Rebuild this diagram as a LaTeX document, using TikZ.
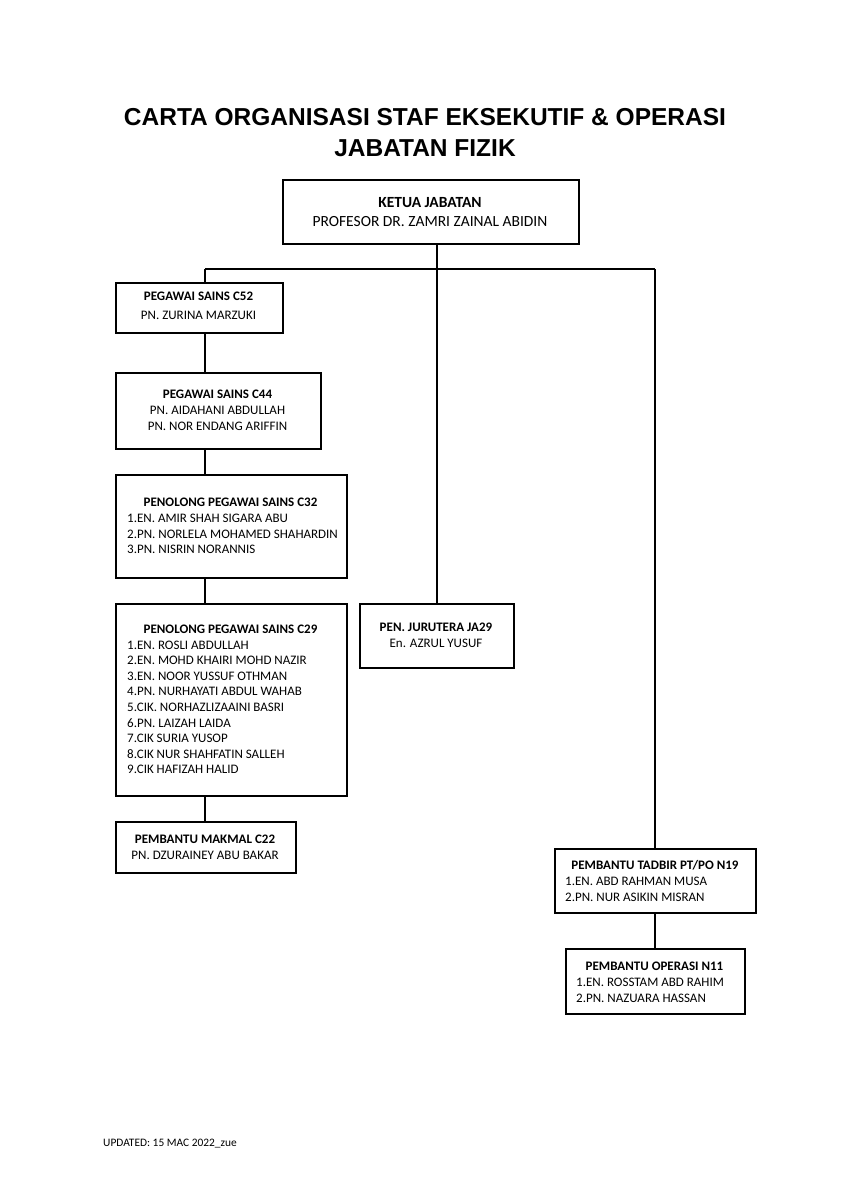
\documentclass[tikz,border=0pt]{standalone}
\usepackage{fontspec}
\setmainfont{Carlito}
\newfontfamily\titlefont{Liberation Sans}
\begin{document}
\begin{tikzpicture}[x=1pt,y=-1pt,
  box/.style={draw,line width=1.7pt,inner sep=0pt,anchor=north west},
  conn/.style={line width=1.3pt},
  hd/.style={font=\fontsize{13}{15.6}\selectfont\bfseries,inner sep=0pt,anchor=base},
  nm/.style={font=\fontsize{13}{15.6}\selectfont,inner sep=0pt,anchor=base},
  lst/.style={font=\fontsize{13}{15.6}\selectfont,inner sep=0pt,anchor=north west,align=left},
  ttl/.style={font=\titlefont\bfseries\fontsize{24.5}{29}\selectfont,inner sep=0pt,anchor=base}
]
\useasboundingbox[fill=white] (0,0) rectangle (849,1200);

% title
\node[ttl] (title1) at (425,125.5) {CARTA ORGANISASI STAF EKSEKUTIF \& OPERASI};
\node[ttl] (title2) at (425,156.5) {JABATAN FIZIK};

% boxes
\node[box,minimum width=296pt,minimum height=64pt] (ketua) at (282,179) {};
\node[box,minimum width=167pt,minimum height=50pt] (c52) at (115,282) {};
\node[box,minimum width=205pt,minimum height=76pt] (c44) at (115,372) {};
\node[box,minimum width=231pt,minimum height=103pt] (c32) at (115,474) {};
\node[box,minimum width=231pt,minimum height=192pt] (c29) at (115,603) {};
\node[box,minimum width=180pt,minimum height=51pt] (c22) at (115,821) {};
\node[box,minimum width=154pt,minimum height=64pt] (jur) at (359,603) {};
\node[box,minimum width=201pt,minimum height=64pt] (tadbir) at (554,848) {};
\node[box,minimum width=179pt,minimum height=65pt] (op) at (565,948) {};

% texts
\node[hd,font=\fontsize{15.5}{18}\selectfont\bfseries] (ketuah) at (430,207) {KETUA JABATAN};
\node[nm,font=\fontsize{15.5}{18}\selectfont] (ketuan) at (430,226.5) {PROFESOR DR. ZAMRI ZAINAL ABIDIN};

\node[hd] (c52h) at (198.5,300.5) {PEGAWAI SAINS C52};
\node[nm] (c52n) at (198.5,319.5) {PN. ZURINA MARZUKI};

\node[hd] (c44h) at (217.5,398.5) {PEGAWAI SAINS C44};
\node[nm] (c44n1) at (217.5,414.5) {PN. AIDAHANI ABDULLAH};
\node[nm] (c44n2) at (217.5,430.5) {PN. NOR ENDANG ARIFFIN};

\node[hd] (c32h) at (230.5,506.5) {PENOLONG PEGAWAI SAINS C32};
\node[lst] (c32l) at (127,513.8) {1.EN. AMIR SHAH SIGARA ABU\\2.PN. NORLELA MOHAMED SHAHARDIN\\3.PN. NISRIN NORANNIS};

\node[hd] (c29h) at (230.5,633.5) {PENOLONG PEGAWAI SAINS C29};
\node[lst] (c29l) at (127,640.5) {1.EN. ROSLI ABDULLAH\\2.EN. MOHD KHAIRI MOHD NAZIR\\3.EN. NOOR YUSSUF OTHMAN\\4.PN. NURHAYATI ABDUL WAHAB\\5.CIK. NORHAZLIZAAINI BASRI\\6.PN. LAIZAH LAIDA\\7.CIK SURIA YUSOP\\8.CIK NUR SHAHFATIN SALLEH\\9.CIK HAFIZAH HALID};

\node[hd] (c22h) at (205,843.5) {PEMBANTU MAKMAL C22};
\node[nm] (c22n) at (205,859.5) {PN. DZURAINEY ABU BAKAR};

\node[hd] (jurh) at (436,631.5) {PEN. JURUTERA JA29};
\node[nm] (jurn) at (436,647.5) {En. AZRUL YUSUF};

\node[hd] (tadbirh) at (655,869.5) {PEMBANTU TADBIR PT/PO N19};
\node[lst] (tadbirl) at (565,876.8) {1.EN. ABD RAHMAN MUSA\\2.PN. NUR ASIKIN MISRAN};

\node[hd] (oph) at (654.5,970.5) {PEMBANTU OPERASI N11};
\node[lst] (opl) at (576,977.8) {1.EN. ROSSTAM ABD RAHIM\\2.PN. NAZUARA HASSAN};

\node[font=\fontsize{11.4}{13}\selectfont,inner sep=0pt,anchor=base west] (foot) at (103,1146) {UPDATED: 15 MAC 2022\_zue};

% connectors
\coordinate (lt) at (205,269);
\coordinate (rt) at (655,269);
\draw[conn] (jur.north) -- (jur.north |- ketua.south);
\draw[conn] (lt) -- (rt);
\draw[conn] (lt) -- (lt |- c52.north);
\draw[conn] (rt) -- (rt |- tadbir.north);
\draw[conn] (c52.south -| lt) -- (c44.north -| lt);
\draw[conn] (c44.south -| lt) -- (c32.north -| lt);
\draw[conn] (c32.south -| lt) -- (c29.north -| lt);
\draw[conn] (c29.south -| lt) -- (c22.north -| lt);
\draw[conn] (tadbir.south -| rt) -- (op.north -| rt);
\end{tikzpicture}
\end{document}
